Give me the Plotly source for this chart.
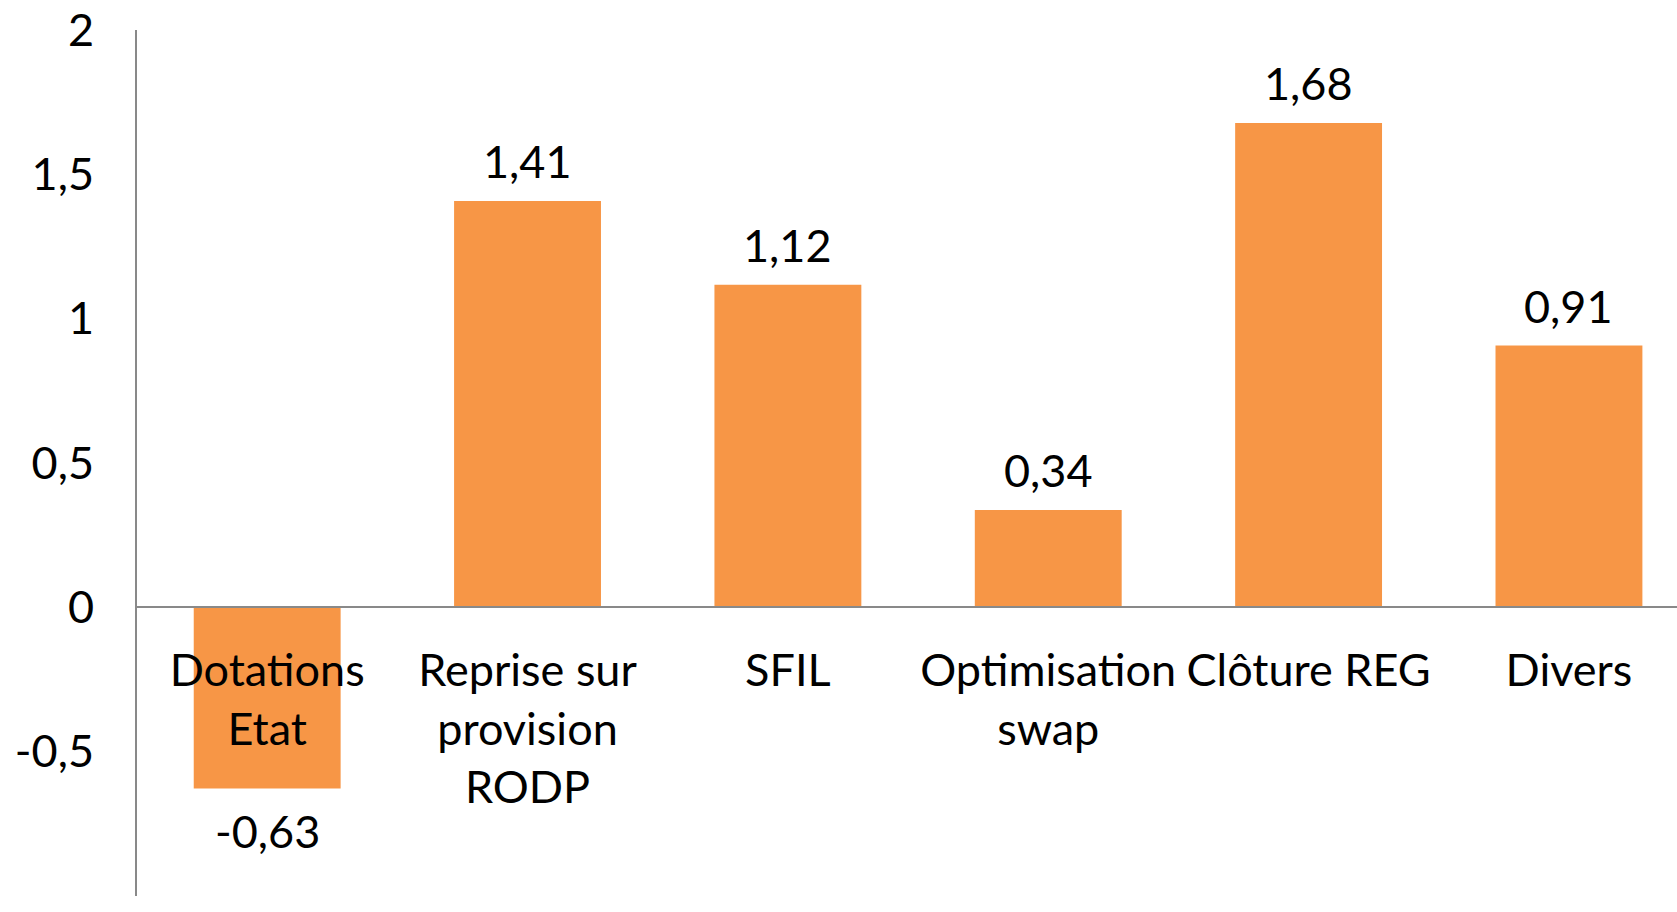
import plotly.graph_objects as go

categories = ["Dotations<br>Etat", "Reprise sur<br>provision<br>RODP", "SFIL",
              "Optimisation<br>swap", "Clôture REG", "Divers"]
values = [-0.63, 1.41, 1.12, 0.34, 1.68, 0.91]
value_labels = ["-0,63", "1,41", "1,12", "0,34", "1,68", "0,91"]
y_tickvals = [-1, -0.5, 0, 0.5, 1, 1.5, 2]
y_ticktext = ["-1", "-0,5", "0", "0,5", "1", "1,5", "2"]

FONT = "Lato"
FS = 45
BAR = "#F79646"
AXIS = "#898989"

xs = list(range(len(categories)))

fig = go.Figure()
fig.add_trace(go.Bar(
    x=xs, y=values, width=0.57,
    marker=dict(color=BAR, line=dict(color="white", width=1.5)),
    hoverinfo="skip",
))

for x, v, t in zip(xs, values, value_labels):
    fig.add_annotation(
        x=x, y=v, text=t, showarrow=False,
        yanchor="bottom" if v >= 0 else "top",
        yshift=10 if v >= 0 else -13,
        font=dict(family=FONT, size=FS, color="black"),
    )

fig.update_layout(
    width=1677, height=912,
    margin=dict(l=137, r=0, t=30, b=16),
    paper_bgcolor="white", plot_bgcolor="white",
    showlegend=False,
    font=dict(family=FONT, size=FS, color="black"),
    xaxis=dict(
        range=[-0.5, 5.415],
        tickvals=xs, ticktext=categories,
        showgrid=False, zeroline=False,
        showline=True, linecolor=AXIS, linewidth=2,
        anchor="free", position=1/3,
        ticks="", ticklabelstandoff=24,
        tickfont=dict(family=FONT, size=FS, color="black"),
    ),
    yaxis=dict(
        range=[-1, 2],
        tickvals=y_tickvals, ticktext=y_ticktext,
        showgrid=False, zeroline=False,
        showline=True, linecolor=AXIS, linewidth=2,
        ticks="", ticklabelstandoff=32,
        tickfont=dict(family=FONT, size=FS, color="black"),
    ),
)

fig.write_html(
    "out.html",
    config={"displayModeBar": False},
    post_script="document.body.style.margin='0';document.body.style.overflow='hidden';",
)
